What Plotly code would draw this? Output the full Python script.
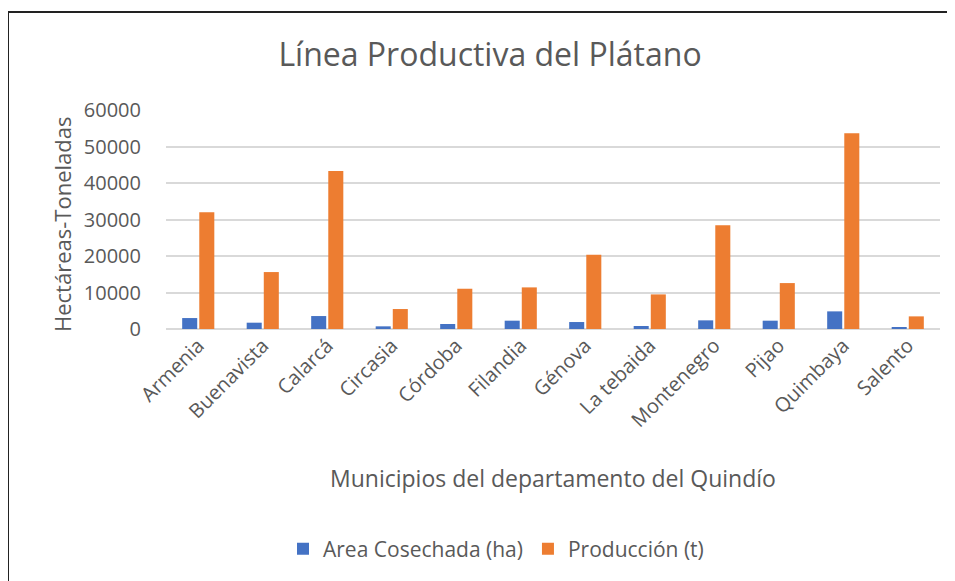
import plotly.graph_objects as go

# Municipios del Quindío - plátano
municipios = ["Armenia", "Buenavista", "Calarcá", "Circasia", "Córdoba", "Filandia",
              "Génova", "La tebaida", "Montenegro", "Pijao", "Quimbaya", "Salento"]
area_ha = [3000, 1730, 3550, 730, 1370, 2280, 1910, 820, 2370, 2280, 4830, 360]
produccion_t = [32000, 15600, 43300, 5470, 11030, 11400, 20330, 9480, 28440, 12580, 53600, 3460]
y_ticks = [0, 10000, 20000, 30000, 40000, 50000, 60000]

BLUE = "#4472C4"
ORANGE = "#ED7D31"
TEXT = "#595959"
GRID = "#D9D9D9"
FONT = "Open Sans, sans-serif"

# page body adds an 8px margin, so the figure is sized/positioned to compensate
OFF = 8
W, H = 955 - OFF, 581 - OFF
L, T = 166 - OFF, 110 - OFF
R = W - (940 - OFF)
B = H - (329 - OFF)
pw = W - L - R
ph = H - T - B


def px_x(x):
    return (x - OFF - L) / pw


def px_y(y):
    return (T + ph - (y - OFF)) / ph


fig = go.Figure()
fig.add_trace(go.Bar(x=municipios, y=area_ha, name="Area Cosechada (ha)",
                     marker=dict(color=BLUE, line=dict(width=0))))
fig.add_trace(go.Bar(x=municipios, y=produccion_t, name="Producción (t)",
                     marker=dict(color=ORANGE, line=dict(width=0))))

fig.update_layout(
    width=W, height=H,
    margin=dict(l=L, r=R, t=T, b=B),
    paper_bgcolor="white", plot_bgcolor="white",
    font=dict(family=FONT, color=TEXT, size=20),
    barmode="group", bargap=0.47, bargroupgap=0.12,
    title=dict(text="Línea Productiva del Plátano", x=(490 - OFF) / W, xanchor="center",
               y=1 - (55 - OFF) / H, yanchor="middle",
               font=dict(size=32, color=TEXT, family=FONT)),
    xaxis=dict(tickangle=-45, showgrid=False, showline=False, zeroline=False,
               tickfont=dict(size=20, color=TEXT), ticks=""),
    yaxis=dict(range=[0, 60000], tickvals=y_ticks, showgrid=True, gridcolor=GRID,
               gridwidth=1.5, zeroline=True, zerolinecolor=GRID, zerolinewidth=1.5,
               showline=False, tickfont=dict(size=20, color=TEXT),
               ticklabelstandoff=24, tickformat="d"),
    legend=dict(orientation="h", x=px_x(496), xanchor="center", y=px_y(549),
                yanchor="middle", font=dict(size=21, color=TEXT), traceorder="normal",
                itemwidth=30),
    showlegend=True,
)

fig.add_annotation(text="Hectáreas-Toneladas", xref="paper", yref="paper",
                   x=px_x(62), y=px_y(225), textangle=-90, showarrow=False,
                   xanchor="center", yanchor="middle", font=dict(size=22, color=TEXT))
fig.add_annotation(text="Municipios del departamento del Quindío", xref="paper", yref="paper",
                   x=px_x(553), y=px_y(478), showarrow=False,
                   xanchor="center", yanchor="middle", font=dict(size=23, color=TEXT))

# outer chart border (right and bottom edges lie outside the view)
fig.add_shape(type="rect", xref="paper", yref="paper",
              x0=px_x(8), x1=px_x(990), y0=px_y(620), y1=px_y(12),
              line=dict(color="#222222", width=2), layer="below")

fig.write_html("out.html")
